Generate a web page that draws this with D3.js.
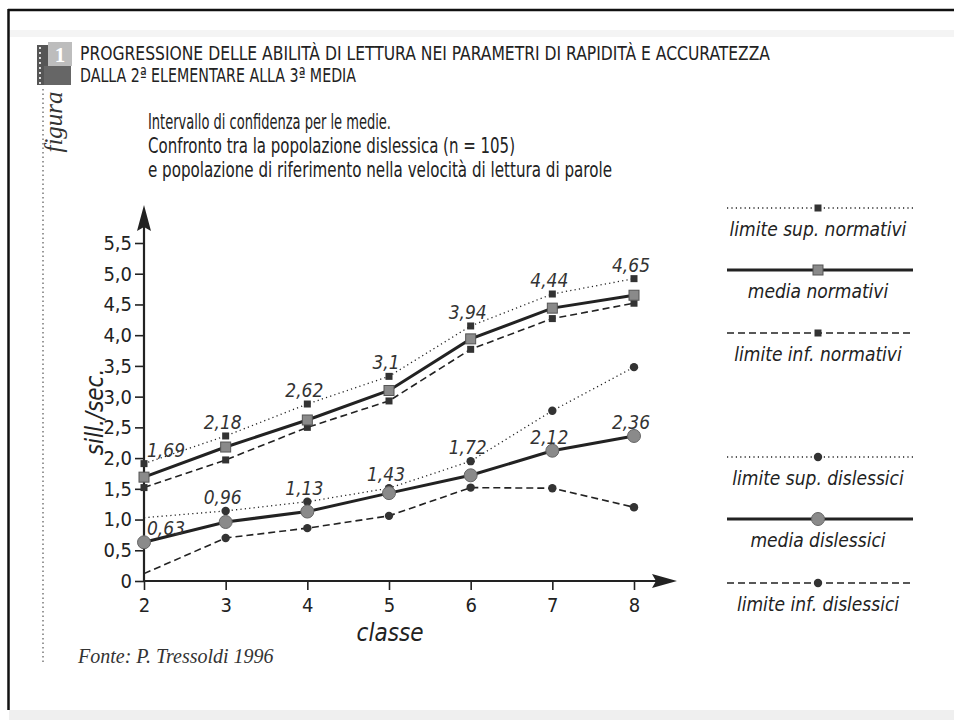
<!DOCTYPE html>
<html>
<head>
<meta charset="utf-8">
<script src="https://cdn.jsdelivr.net/npm/d3@7"></script>
<style>
  html, body { margin: 0; padding: 0; background: #fff; }
  svg { display: block; }
  .cond { font-family: 'Liberation Sans Narrow', 'DejaVu Sans Condensed', 'DejaVu Sans', sans-serif; font-stretch: condensed; }
  .serif { font-family: 'Liberation Serif', 'DejaVu Serif', serif; }
</style>
</head>
<body>
<svg id="chart" width="954" height="720"></svg>
<script>
// School years (2ª elementare = 2 ... 3ª media = 8)
const classes = [2, 3, 4, 5, 6, 7, 8];
// Normative population: mean and confidence-interval bounds (syllables / second)
const normMean = [1.69, 2.18, 2.62, 3.1, 3.94, 4.44, 4.65];
const normSup  = [1.91, 2.36, 2.88, 3.33, 4.15, 4.67, 4.92];
const normInf  = [1.52, 1.97, 2.50, 2.93, 3.77, 4.27, 4.52];
// Dyslexic population (n = 105)
const dysMean = [0.63, 0.96, 1.13, 1.43, 1.72, 2.12, 2.36];
const dysSup  = [1.03, 1.14, 1.29, 1.51, 1.95, 2.77, 3.48];
const dysInf  = [0.12, 0.70, 0.86, 1.06, 1.52, 1.51, 1.20];
// Y axis ticks
const yTicks = [0, 0.5, 1.0, 1.5, 2.0, 2.5, 3.0, 3.5, 4.0, 4.5, 5.0, 5.5];
// Legend entries
const legendLabels = [
  "limite sup. normativi", "media normativi", "limite inf. normativi",
  "limite sup. dislessici", "media dislessici", "limite inf. dislessici"
];

const ink = "#222";
const svg = d3.select("#chart");

// page frame and bands
svg.append("rect").attr("x", 0).attr("y", 0).attr("width", 954).attr("height", 720).attr("fill", "#fff");
svg.append("rect").attr("x", 9).attr("y", 30).attr("width", 945).attr("height", 7).attr("fill", "#f4f4f4");
svg.append("rect").attr("x", 9).attr("y", 710).attr("width", 945).attr("height", 10).attr("fill", "#efefef");
svg.append("line").attr("x1", 8).attr("x2", 954).attr("y1", 10).attr("y2", 10).attr("stroke", "#111").attr("stroke-width", 2.5);
svg.append("line").attr("x1", 8.5).attr("x2", 8.5).attr("y1", 9).attr("y2", 710).attr("stroke", "#111").attr("stroke-width", 2.5);

// figure badge
const badge = svg.append("g");
badge.append("rect").attr("x", 37).attr("y", 45).attr("width", 11).attr("height", 40).attr("fill", "#555");
for (let i = 0; i < 8; i++) {
  badge.append("rect").attr("x", 39).attr("y", 47 + i * 5).attr("width", 2).attr("height", 2).attr("fill", "#ddd");
}
badge.append("rect").attr("x", 44).attr("y", 66).attr("width", 27).attr("height", 19).attr("fill", "#666");
badge.append("rect").attr("x", 48).attr("y", 42).attr("width", 24).attr("height", 24).attr("fill", "#bdbdbd");
badge.append("text").attr("class", "serif").attr("x", 60).attr("y", 62).attr("text-anchor", "middle")
  .attr("font-size", 21).attr("font-weight", "bold").attr("fill", "#fff").text("1");
svg.append("line").attr("x1", 43).attr("x2", 43).attr("y1", 89).attr("y2", 664)
  .attr("stroke", "#999").attr("stroke-width", 2).attr("stroke-dasharray", "1.5,3");
svg.append("text").attr("class", "serif").attr("transform", "translate(62,122) rotate(-90)")
  .attr("text-anchor", "middle").attr("font-size", 25).attr("font-style", "italic").attr("fill", "#333").text("figura");

// titles
const titleLines = [
  { t: "PROGRESSIONE DELLE ABILITÀ DI LETTURA NEI PARAMETRI DI RAPIDITÀ E ACCURATEZZA", y: 60, w: 690 },
  { t: "DALLA 2ª ELEMENTARE ALLA 3ª MEDIA", y: 82, w: 276 }
];
titleLines.forEach(l => svg.append("text").attr("class", "cond").attr("x", 80).attr("y", l.y)
  .attr("font-size", 20).attr("fill", ink).attr("textLength", l.w).attr("lengthAdjust", "spacingAndGlyphs").text(l.t));
const subLines = [
  { t: "Intervallo di confidenza per le medie.", y: 129, w: 243 },
  { t: "Confronto tra la popolazione dislessica (n = 105)", y: 153, w: 367 },
  { t: "e popolazione di riferimento nella velocità di lettura di parole", y: 177, w: 464 }
];
subLines.forEach(l => svg.append("text").attr("class", "cond").attr("x", 148).attr("y", l.y)
  .attr("font-size", 22).attr("fill", ink).attr("textLength", l.w).attr("lengthAdjust", "spacingAndGlyphs").text(l.t));

// scales
const x = d3.scaleLinear().domain([2, 8]).range([144, 634]);
const y = d3.scaleLinear().domain([0, 5.5]).range([581, 243]);
const fmt = d => d === 0 ? "0" : d3.format(".1f")(d).replace(".", ",");

// axes
const yAxis = svg.append("g").attr("transform", `translate(${x(2)},0)`)
  .call(d3.axisLeft(y).tickValues(yTicks).tickFormat(fmt).tickSize(9).tickSizeOuter(0).tickPadding(3));
const xAxis = svg.append("g").attr("transform", `translate(0,${y(0)})`)
  .call(d3.axisBottom(x).tickValues(classes).tickFormat(d3.format("d")).tickSize(9).tickSizeOuter(0).tickPadding(8));
[yAxis, xAxis].forEach(g => {
  g.select(".domain").remove();
  g.selectAll(".tick line").attr("stroke", ink).attr("stroke-width", 1.6);
  g.selectAll(".tick text").attr("class", "cond").attr("font-size", 20).attr("fill", ink);
});
// axis lines with arrowheads
svg.append("line").attr("x1", x(2)).attr("x2", x(2)).attr("y1", y(0) + 1).attr("y2", 222).attr("stroke", ink).attr("stroke-width", 2.2);
svg.append("path").attr("d", `M${x(2)},205 L${x(2) - 7},231 L${x(2)},227 L${x(2) + 7},231 Z`).attr("fill", ink);
svg.append("line").attr("x1", x(2) - 1).attr("x2", 660).attr("y1", y(0)).attr("y2", y(0)).attr("stroke", ink).attr("stroke-width", 2.2);
svg.append("path").attr("d", `M677,${y(0)} L652,${y(0) - 7} L656,${y(0)} L652,${y(0) + 7} Z`).attr("fill", ink);

// axis titles
svg.append("text").attr("class", "cond").attr("transform", "translate(103,412) rotate(-90)")
  .attr("text-anchor", "middle").attr("font-size", 24).attr("font-style", "italic").attr("fill", ink).text("sill./sec.");
svg.append("text").attr("class", "cond").attr("x", 390).attr("y", 641)
  .attr("text-anchor", "middle").attr("font-size", 24).attr("font-style", "italic").attr("fill", ink).text("classe");
svg.append("text").attr("class", "serif").attr("x", 78).attr("y", 663)
  .attr("font-size", 20).attr("font-style", "italic").attr("fill", "#333").text("Fonte: P. Tressoldi 1996");

// line styles
const styles = {
  sup:  { w: 1.3, dash: "1.2,3.2" },
  mean: { w: 3, dash: null },
  inf:  { w: 1.6, dash: "7,4" }
};
const series = [
  { vals: normSup,  kind: "sup",  pop: "norm" },
  { vals: normInf,  kind: "inf",  pop: "norm" },
  { vals: normMean, kind: "mean", pop: "norm" },
  { vals: dysSup,   kind: "sup",  pop: "dys" },
  { vals: dysInf,   kind: "inf",  pop: "dys" },
  { vals: dysMean,  kind: "mean", pop: "dys" }
];
const line = d3.line().x(d => x(d[0])).y(d => y(d[1]));

function marker(g, pop, kind, cx, cy) {
  if (pop === "norm") {
    const s = kind === "mean" ? 10 : 7;
    g.append("rect").attr("x", cx - s / 2).attr("y", cy - s / 2).attr("width", s).attr("height", s)
      .attr("fill", kind === "mean" ? "#8a8a8a" : "#333")
      .attr("stroke", kind === "mean" ? "#555" : "none").attr("stroke-width", 1);
  } else {
    const r = kind === "mean" ? 6.5 : 4.2;
    g.append("circle").attr("cx", cx).attr("cy", cy).attr("r", r)
      .attr("fill", kind === "mean" ? "#8a8a8a" : "#333")
      .attr("stroke", kind === "mean" ? "#666" : "none").attr("stroke-width", 1);
  }
}

const plot = svg.append("g");
series.forEach(s => {
  const pts = classes.map((c, i) => [c, s.vals[i]]);
  plot.append("path").attr("d", line(pts)).attr("fill", "none").attr("stroke", ink)
    .attr("stroke-width", styles[s.kind].w).attr("stroke-dasharray", styles[s.kind].dash);
});
series.forEach(s => {
  classes.forEach((c, i) => {
    // dyslexic bounds carry no marker at the first class
    if (s.pop === "dys" && s.kind !== "mean" && i === 0) return;
    marker(plot, s.pop, s.kind, x(c), y(s.vals[i]));
  });
});

// value labels for the means
function valueLabels(means, sups) {
  classes.forEach((c, i) => {
    const ym = y(means[i]), ys = y(sups[i]);
    const anchorY = (ym - ys) < 20 ? ys : ym;
    const first = i === 0;
    plot.append("text").attr("class", "cond")
      .attr("x", first ? x(c) + 3 : x(c) - 3)
      .attr("y", anchorY - 7)
      .attr("text-anchor", first ? "start" : "middle")
      .attr("font-size", 19).attr("font-style", "italic").attr("fill", "#333")
      .text(String(means[i]).replace(".", ","));
  });
}
valueLabels(normMean, normSup);
valueLabels(dysMean, dysSup);

// legend
const legendKinds = ["sup", "mean", "inf", "sup", "mean", "inf"];
const legendPops = ["norm", "norm", "norm", "dys", "dys", "dys"];
const legendY = [208, 270, 333, 457, 519, 583];
const leg = svg.append("g");
legendLabels.forEach((lab, i) => {
  const ly = legendY[i], k = legendKinds[i];
  leg.append("line").attr("x1", 727).attr("x2", 913).attr("y1", ly).attr("y2", ly)
    .attr("stroke", ink).attr("stroke-width", styles[k].w).attr("stroke-dasharray", styles[k].dash);
  marker(leg, legendPops[i], k, 818, ly);
  leg.append("text").attr("class", "cond").attr("x", 818).attr("y", ly + 28)
    .attr("text-anchor", "middle").attr("font-size", 19).attr("font-style", "italic").attr("fill", ink).text(lab);
});
</script>
</body>
</html>
